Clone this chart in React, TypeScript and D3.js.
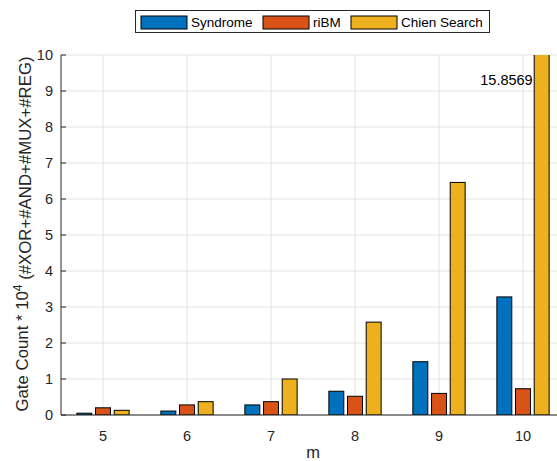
import React from "react";
import * as d3 from "d3";

const categories = [5, 6, 7, 8, 9, 10];
const seriesNames = ["Syndrome", "riBM", "Chien Search"];
const syndrome = [0.05, 0.11, 0.28, 0.66, 1.48, 3.28];
const riBM = [0.2, 0.28, 0.37, 0.52, 0.6, 0.73];
const chien = [0.13, 0.37, 1.0, 2.58, 6.46, 15.8569];
const yTicks = [0, 1, 2, 3, 4, 5, 6, 7, 8, 9, 10];
const colors = ["#0072BD", "#D95319", "#EDB120"];
const annotation = { x: 10, y: 9.3, text: "15.8569" };

const W = 557;
const H = 461;
const FONT = "'Liberation Sans', Arial, Helvetica, sans-serif";

export default function App() {
  const x = d3.scaleLinear().domain([4.5, 10.5]).range([61, 565]);
  const y = d3.scaleLinear().domain([0, 10]).range([415, 55]);
  const series = [syndrome, riBM, chien];
  const nS = series.length;
  const groupWidth = Math.min(0.8, nS / (nS + 1.5));
  const step = groupWidth / nS;
  const barW = step * 0.8;
  const [x0, x1] = x.range();
  const [yb, yt] = y.range();

  const legendItems = [
    { sx: 141, tx: 191 },
    { sx: 263, tx: 313 },
    { sx: 351, tx: 401 },
  ];

  return (
    <svg width={W} height={H} style={{ position: "absolute", left: 0, top: 0, background: "#fff" }} fontFamily={FONT}>
      <defs>
        <clipPath id="plotClip">
          <rect x={x0} y={yt} width={x1 - x0} height={yb - yt} />
        </clipPath>
      </defs>
      <rect x={0} y={0} width={W} height={H} fill="#fff" />
      {/* grid */}
      {yTicks.map((t) => (
        <line key={"gy" + t} x1={x0} x2={x1} y1={y(t)} y2={y(t)} stroke="#e2e2e2" strokeWidth={1} />
      ))}
      {categories.map((c) => (
        <line key={"gx" + c} x1={x(c)} x2={x(c)} y1={yb} y2={yt} stroke="#e2e2e2" strokeWidth={1} />
      ))}
      {/* x ticks (inward) */}
      {categories.map((c) => (
        <line key={"tx" + c} x1={x(c)} x2={x(c)} y1={yb} y2={yb - 5} stroke="#262626" strokeWidth={1} />
      ))}
      {/* bars */}
      <g clipPath="url(#plotClip)">
        {series.map((vals, si) =>
          vals.map((v, i) => {
            const cx = categories[i] + (si - (nS - 1) / 2) * step;
            const left = x(cx - barW / 2);
            const right = x(cx + barW / 2);
            const top = y(v);
            return (
              <rect
                key={si + "-" + i}
                x={left}
                y={top}
                width={right - left}
                height={yb - top}
                fill={colors[si]}
                stroke="#000"
                strokeWidth={1}
              />
            );
          })
        )}
      </g>
      {/* axes */}
      <line x1={x0} x2={x0} y1={yt} y2={yb} stroke="#262626" strokeWidth={1} />
      <line x1={x0} x2={x1} y1={yb} y2={yb} stroke="#262626" strokeWidth={1} />
      {yTicks.map((t) => (
        <g key={"ty" + t}>
          <line x1={x0} x2={x0 + 5} y1={y(t)} y2={y(t)} stroke="#262626" strokeWidth={1} />
          <text x={x0 - 8} y={y(t)} dy="0.35em" textAnchor="end" fontSize={14.5} fill="#262626">
            {t}
          </text>
        </g>
      ))}
      {categories.map((c) => (
        <text key={"lx" + c} x={x(c)} y={yb + 21} dy="0.35em" textAnchor="middle" fontSize={14.5} fill="#262626">
          {c}
        </text>
      ))}
      {/* axis labels */}
      <text x={(x0 + 565) / 2} y={452} dy="0.35em" textAnchor="middle" fontSize={16.5} fill="#262626">
        m
      </text>
      <text
        transform={`translate(22.5, ${(yt + yb) / 2 - 1}) rotate(-90)`}
        textAnchor="middle"
        dy="0.35em"
        fontSize={16.8}
        fill="#262626"
      >
        Gate Count * 10
        <tspan dy="-0.5em" fontSize={12}>4</tspan>
        <tspan dy="0.5em"> (#XOR+#AND+#MUX+#REG)</tspan>
      </text>
      {/* annotation */}
      <text
        x={x(annotation.x + step - barW / 2) - 1.5}
        y={y(annotation.y)}
        dy="0.35em"
        textAnchor="end"
        fontSize={14.5}
        fill="#000"
      >
        {annotation.text}
      </text>
      {/* legend */}
      <rect x={135.5} y={10.5} width={354} height={22} fill="#fff" stroke="#262626" strokeWidth={1} />
      {seriesNames.map((n, i) => (
        <g key={n}>
          <rect x={legendItems[i].sx} y={16} width={46} height={13} fill={colors[i]} stroke="#000" strokeWidth={1} />
          <text x={legendItems[i].tx} y={22.5} dy="0.35em" fontSize={13.5} fill="#000">
            {n}
          </text>
        </g>
      ))}
    </svg>
  );
}
